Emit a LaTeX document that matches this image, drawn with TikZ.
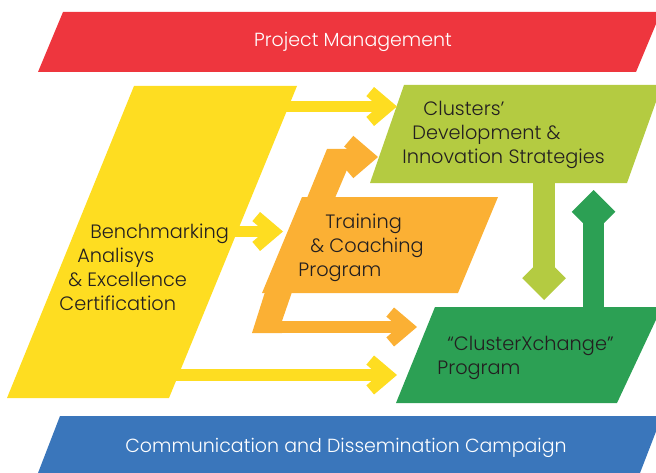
\documentclass[tikz,border=0pt]{standalone}
\usepackage{fontspec}
\setmainfont{Poppins Light}
\usetikzlibrary{arrows.meta}

\definecolor{pmred}{RGB}{238,54,62}
\definecolor{bmyellow}{RGB}{254,221,33}
\definecolor{tcorange}{RGB}{251,176,52}
\definecolor{cdgreen}{RGB}{180,203,65}
\definecolor{cxgreen}{RGB}{44,160,84}
\definecolor{cmblue}{RGB}{58,118,187}
\definecolor{txtdark}{RGB}{35,31,32}

\begin{document}
\begin{tikzpicture}[x=0.02cm,y=-0.02cm,
  lbl/.style={inner sep=0pt,anchor=west,align=left,text=txtdark,
    font=\fontsize{11}{13.7}\selectfont},
  bartext/.style={inner sep=0pt,text=white,font=\fontsize{10.8}{13.7}\selectfont},
  flatarrow/.style={line width=6.8pt,-{Straight Barb[sharp,length=10pt,width=17pt]}},
  bentarrow/.style={line width=8pt,-{Straight Barb[sharp,length=10.5pt,width=18pt]}},
  uparrow/.style={line width=12.5pt,-{Straight Barb[sharp,length=8pt,width=16pt]}}]
\useasboundingbox (0,0) rectangle (656,473);

% top and bottom bars
\fill[pmred] (38,72) -- (63,12) -- (661,12) -- (636,72) -- cycle;
\node[bartext] (pm) at (353,42) {Project Management};
\fill[cmblue] (38,473) -- (60,416) -- (662,416) -- (640,473) -- cycle;
\node[bartext] (comm) at (346,448) {Communication and Dissemination Campaign};

% the four blocks
\fill[bmyellow] (7,398) -- (134,86) -- (297,86) -- (169,398) -- cycle;
\fill[cdgreen] (370,183) -- (404,85) -- (662,85) -- (627,183) -- cycle;
\fill[tcorange] (262,293) -- (302,197) -- (498,197) -- (458,293) -- cycle;
\fill[cxgreen] (396,403) -- (435,307) -- (662,307) -- (617,403) -- cycle;

% stems of the orange arrows
\fill[tcorange] (307,198) -- (327,149) -- (350,149) -- (349,165) -- (335,198) -- cycle;
\fill[tcorange] (265,292) -- (292,292) -- (282,321) -- (282,333) -- (252,333) -- cycle;

\node[lbl] (bm) at (59,267) {\hspace*{17.6pt}Benchmarking\\\hspace*{10.2pt}Analisys\\\hspace*{5.1pt}\& Excellence\\Certification};
\node[lbl] (cd) at (402,135) {\hspace*{12pt}Clusters’\\\hspace*{5.7pt}Development \&\\Innovation Strategies};
\node[lbl] (tc) at (298,248) {\hspace*{15.4pt}Training\\\hspace*{6.8pt}\& Coaching\\Program};
\node[lbl] (cx) at (437,358) {\hspace*{5.7pt}“ClusterXchange”\\Program};

% arrow ends
\coordinate (bm-a) at (280,106.5);
\coordinate (cd-a) at (397,106.5);
\coordinate (bm-b) at (230,231.5);
\coordinate (tc-b) at (283,231.5);
\coordinate (bm-c) at (170,375);
\coordinate (cx-c) at (397,375);
\coordinate (tc-up) at (335,157);
\coordinate (cd-t) at (378,157);
\coordinate (tc-dn) at (272,327);
\coordinate (cx-t) at (417,327);
\coordinate (cd-dn) at (544,180);
\coordinate (cx-dn) at (544,300);
\coordinate (cx-up) at (593.5,310);
\coordinate (cd-up) at (593.5,190);

% arrows
\draw[flatarrow,bmyellow] (bm-a) -- (cd-a);
\draw[flatarrow,bmyellow] (bm-b) -- (tc-b);
\draw[flatarrow,bmyellow] (bm-c) -- (cx-c);
\draw[bentarrow,tcorange] (tc-up) -- (cd-t);
\draw[flatarrow,tcorange] (tc-dn) -- (cx-t);
\draw[uparrow,cdgreen] (cd-dn) -- (cx-dn);
\draw[uparrow,cxgreen] (cx-up) -- (cd-up);
\end{tikzpicture}
\end{document}
